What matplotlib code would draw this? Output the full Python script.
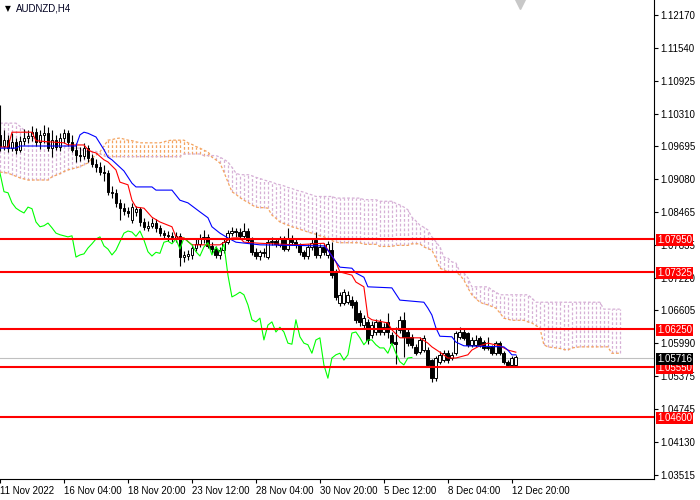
import numpy as np
import matplotlib
matplotlib.use("Agg")
import matplotlib.pyplot as plt
from matplotlib.transforms import blended_transform_factory

# H4 candles, one per bar (bar 0 = left edge of the chart)
opens = [
    1.0990, 1.0970, 1.0981, 1.0966, 1.0978, 1.0963, 1.0979, 1.0985, 1.0989, 1.0996,
    1.0978, 1.0991, 1.0994, 1.0966, 1.0981, 1.0968, 1.0985, 1.0994, 1.0978, 1.0963,
    1.0953, 1.0951, 1.0966, 1.0947, 1.0936, 1.0931, 1.0921, 1.0919, 1.0884, 1.0882,
    1.0863, 1.0853, 1.0848, 1.0830, 1.0846, 1.0852, 1.0827, 1.0816, 1.0820, 1.0825,
    1.0816, 1.0806, 1.0803, 1.0801, 1.0797, 1.0801, 1.0761, 1.0763, 1.0765, 1.0778,
    1.0786, 1.0795, 1.0799, 1.0782, 1.0776, 1.0765, 1.0774, 1.0790, 1.0806, 1.0810,
    1.0808, 1.0800, 1.0810, 1.0793, 1.0771, 1.0763, 1.0770, 1.0762, 1.0789, 1.0791,
    1.0784, 1.0795, 1.0776, 1.0797, 1.0790, 1.0784, 1.0771, 1.0763, 1.0780, 1.0793,
    1.0765, 1.0780, 1.0765, 1.0774, 1.0733, 1.0675, 1.0675, 1.0677, 1.0680, 1.0676,
    1.0656, 1.0633, 1.0639, 1.0614, 1.0620, 1.0639, 1.0620, 1.0639, 1.0614, 1.0601,
    1.0624, 1.0643, 1.0620, 1.0611, 1.0592, 1.0582, 1.0586, 1.0586, 1.0567, 1.0533,
    1.0564, 1.0567, 1.0580, 1.0571, 1.0580, 1.0611, 1.0620, 1.0618, 1.0596, 1.0596,
    1.0609, 1.0601, 1.0592, 1.0592, 1.0580, 1.0599, 1.0580, 1.0564, 1.0558, 1.0558,
]
highs = [
    1.1047, 1.1000, 1.0990, 1.0995, 1.0985, 1.0988, 1.1002, 1.1000, 1.1008, 1.1003,
    1.1000, 1.1010, 1.1005, 1.1000, 1.0990, 1.0995, 1.1002, 1.1000, 1.0990, 1.0975,
    1.0968, 1.0975, 1.0972, 1.0955, 1.0945, 1.0940, 1.0935, 1.0925, 1.0895, 1.0890,
    1.0870, 1.0862, 1.0855, 1.0862, 1.0858, 1.0856, 1.0835, 1.0828, 1.0835, 1.0832,
    1.0822, 1.0812, 1.0810, 1.0808, 1.0808, 1.0806, 1.0772, 1.0775, 1.0785, 1.0795,
    1.0805, 1.0812, 1.0805, 1.0790, 1.0782, 1.0780, 1.0795, 1.0812, 1.0818, 1.0816,
    1.0815, 1.0825, 1.0816, 1.0798, 1.0778, 1.0775, 1.0778, 1.0795, 1.0798, 1.0796,
    1.0800, 1.0800, 1.0815, 1.0802, 1.0795, 1.0788, 1.0775, 1.0786, 1.0795, 1.0808,
    1.0786, 1.0788, 1.0791, 1.0790, 1.0738, 1.0695, 1.0700, 1.0698, 1.0688, 1.0680,
    1.0662, 1.0652, 1.0645, 1.0640, 1.0645, 1.0645, 1.0636, 1.0656, 1.0620, 1.0629,
    1.0650, 1.0658, 1.0625, 1.0616, 1.0597, 1.0610, 1.0614, 1.0592, 1.0570, 1.0575,
    1.0584, 1.0586, 1.0586, 1.0582, 1.0622, 1.0629, 1.0625, 1.0620, 1.0610, 1.0614,
    1.0613, 1.0605, 1.0611, 1.0596, 1.0603, 1.0603, 1.0584, 1.0567, 1.0575, 1.0577,
]
lows = [
    1.0960, 1.0962, 1.0958, 1.0960, 1.0955, 1.0958, 1.0972, 1.0975, 1.0980, 1.0970,
    1.0965, 1.0975, 1.0960, 1.0950, 1.0962, 1.0960, 1.0975, 1.0970, 1.0958, 1.0940,
    1.0942, 1.0945, 1.0940, 1.0930, 1.0922, 1.0915, 1.0905, 1.0878, 1.0872, 1.0855,
    1.0830, 1.0840, 1.0836, 1.0826, 1.0838, 1.0820, 1.0812, 1.0810, 1.0815, 1.0808,
    1.0800, 1.0795, 1.0792, 1.0790, 1.0790, 1.0745, 1.0752, 1.0755, 1.0758, 1.0772,
    1.0780, 1.0788, 1.0778, 1.0768, 1.0760, 1.0758, 1.0768, 1.0785, 1.0800, 1.0798,
    1.0795, 1.0795, 1.0788, 1.0765, 1.0758, 1.0755, 1.0762, 1.0758, 1.0784, 1.0780,
    1.0780, 1.0772, 1.0772, 1.0784, 1.0778, 1.0765, 1.0758, 1.0758, 1.0775, 1.0760,
    1.0760, 1.0765, 1.0760, 1.0722, 1.0680, 1.0668, 1.0670, 1.0672, 1.0666, 1.0636,
    1.0632, 1.0628, 1.0598, 1.0608, 1.0615, 1.0614, 1.0615, 1.0609, 1.0595, 1.0560,
    1.0618, 1.0573, 1.0594, 1.0590, 1.0577, 1.0578, 1.0582, 1.0554, 1.0526, 1.0528,
    1.0560, 1.0564, 1.0562, 1.0567, 1.0576, 1.0607, 1.0605, 1.0592, 1.0592, 1.0592,
    1.0592, 1.0586, 1.0586, 1.0576, 1.0576, 1.0576, 1.0560, 1.0555, 1.0554, 1.0555,
]
closes = [
    1.0970, 1.0981, 1.0966, 1.0978, 1.0963, 1.0979, 1.0985, 1.0989, 1.0996, 1.0978,
    1.0991, 1.0994, 1.0966, 1.0981, 1.0968, 1.0985, 1.0994, 1.0978, 1.0963, 1.0953,
    1.0951, 1.0966, 1.0947, 1.0936, 1.0931, 1.0921, 1.0919, 1.0884, 1.0882, 1.0863,
    1.0853, 1.0848, 1.0844, 1.0855, 1.0852, 1.0827, 1.0818, 1.0820, 1.0825, 1.0816,
    1.0806, 1.0803, 1.0801, 1.0799, 1.0801, 1.0761, 1.0765, 1.0767, 1.0778, 1.0786,
    1.0795, 1.0799, 1.0782, 1.0776, 1.0765, 1.0774, 1.0790, 1.0806, 1.0810, 1.0808,
    1.0800, 1.0810, 1.0793, 1.0771, 1.0763, 1.0770, 1.0768, 1.0789, 1.0791, 1.0786,
    1.0795, 1.0776, 1.0797, 1.0790, 1.0784, 1.0771, 1.0763, 1.0780, 1.0788, 1.0765,
    1.0780, 1.0770, 1.0785, 1.0727, 1.0686, 1.0690, 1.0695, 1.0690, 1.0671, 1.0643,
    1.0639, 1.0646, 1.0605, 1.0633, 1.0639, 1.0620, 1.0629, 1.0620, 1.0599, 1.0597,
    1.0643, 1.0611, 1.0599, 1.0596, 1.0580, 1.0605, 1.0609, 1.0558, 1.0533, 1.0571,
    1.0577, 1.0580, 1.0567, 1.0577, 1.0618, 1.0620, 1.0609, 1.0596, 1.0605, 1.0605,
    1.0596, 1.0590, 1.0590, 1.0580, 1.0599, 1.0580, 1.0564, 1.0558, 1.0571, 1.0572,
]

# Tenkan-sen (red) and Kijun-sen (blue), vertices as (bar, price)
tenkan_bar = [0, 2, 3, 8, 9, 12, 16, 17, 21, 22, 23, 24, 26, 27, 29, 30, 32, 33, 34, 36,
              38, 40, 42, 43, 44, 46, 48, 55, 57, 58, 60, 61, 65, 74, 81, 82, 84, 85, 88, 89,
              91, 92, 93, 97, 98, 100, 105, 107, 108, 110, 112, 114, 117, 118, 120, 122, 125,
              127, 129]
tenkan_val = [1.0968, 1.0968, 1.0996, 1.0996, 1.0980, 1.0978, 1.0976, 1.0972, 1.0972, 1.0963,
              1.0959, 1.0957, 1.0944, 1.0940, 1.0925, 1.0902, 1.0897, 1.0868, 1.0855, 1.0853,
              1.0836, 1.0827, 1.0821, 1.0818, 1.0799, 1.0797, 1.0784, 1.0784, 1.0793, 1.0797,
              1.0797, 1.0789, 1.0787, 1.0784, 1.0787, 1.0774, 1.0752, 1.0733, 1.0727, 1.0714,
              1.0705, 1.0648, 1.0643, 1.0637, 1.0624, 1.0609, 1.0609, 1.0599, 1.0592, 1.0582,
              1.0571, 1.0571, 1.0577, 1.0586, 1.0594, 1.0599, 1.0594, 1.0586, 1.0582]
kijun_bar = [0, 4, 5, 19, 20, 21, 22, 24, 26, 27, 28, 31, 33, 34, 38, 39, 43, 45, 47, 50,
             52, 53, 55, 57, 59, 65, 81, 82, 84, 85, 88, 89, 91, 92, 98, 100, 106, 107, 108,
             109, 110, 113, 114, 116, 126, 127, 128, 129]
kijun_val = [1.0966, 1.0966, 1.0970, 1.0970, 1.0991, 1.0996, 1.0994, 1.0987, 1.0963, 1.0949,
             1.0944, 1.0923, 1.0900, 1.0893, 1.0893, 1.0887, 1.0887, 1.0868, 1.0863, 1.0846,
             1.0835, 1.0818, 1.0806, 1.0797, 1.0789, 1.0784, 1.0782, 1.0774, 1.0752, 1.0742,
             1.0740, 1.0731, 1.0723, 1.0705, 1.0703, 1.0680, 1.0676, 1.0665, 1.0652, 1.0628,
             1.0612, 1.0611, 1.0601, 1.0594, 1.0592, 1.0586, 1.0577, 1.0577]

# Senkou span A / B, one value per bar (runs 26 bars past the last candle)
span_a = [
    1.0921, 1.0920, 1.0919, 1.0916, 1.0913, 1.0910, 1.0908, 1.0906, 1.0906, 1.0906,
    1.0906, 1.0906, 1.0906, 1.0912, 1.0915, 1.0918, 1.0922, 1.0925, 1.0927, 1.0929,
    1.0931, 1.0935, 1.0938, 1.0947, 1.0953, 1.0959, 1.0970, 1.0981, 1.0982, 1.0984,
    1.0985, 1.0983, 1.0981, 1.0980, 1.0978, 1.0976, 1.0976, 1.0976, 1.0976, 1.0976,
    1.0976, 1.0978, 1.0980, 1.0981, 1.0981, 1.0981, 1.0981, 1.0976, 1.0973, 1.0969,
    1.0966, 1.0962, 1.0959, 1.0949, 1.0944, 1.0938, 1.0921, 1.0902, 1.0884, 1.0879,
    1.0873, 1.0868, 1.0864, 1.0859, 1.0855, 1.0854, 1.0854, 1.0853, 1.0840, 1.0834,
    1.0827, 1.0824, 1.0821, 1.0818, 1.0816, 1.0813, 1.0811, 1.0808, 1.0806, 1.0804,
    1.0801, 1.0799, 1.0796, 1.0792, 1.0789, 1.0788, 1.0788, 1.0788, 1.0788, 1.0788,
    1.0788, 1.0785, 1.0785, 1.0785, 1.0785, 1.0781, 1.0781, 1.0781, 1.0781, 1.0783,
    1.0783, 1.0783, 1.0783, 1.0786, 1.0786, 1.0786, 1.0780, 1.0777, 1.0774, 1.0759,
    1.0740, 1.0737, 1.0733, 1.0733, 1.0733, 1.0727, 1.0718, 1.0703, 1.0690, 1.0683,
    1.0676, 1.0673, 1.0671, 1.0668, 1.0665, 1.0656, 1.0646, 1.0644, 1.0642, 1.0642,
    1.0642, 1.0642, 1.0639, 1.0637, 1.0632, 1.0628, 1.0596, 1.0592, 1.0591, 1.0590,
    1.0589, 1.0587, 1.0586, 1.0590, 1.0591, 1.0592, 1.0592, 1.0592, 1.0592, 1.0592,
    1.0592, 1.0592, 1.0592, 1.0580, 1.0580, 1.0580,
]
span_b = [
    1.1013, 1.1013, 1.1013, 1.1013, 1.1013, 1.1007, 1.1000, 1.0992, 1.0985, 1.0983,
    1.0980, 1.0978, 1.0975, 1.0972, 1.0972, 1.0972, 1.0972, 1.0966, 1.0966, 1.0966,
    1.0966, 1.0960, 1.0960, 1.0960, 1.0960, 1.0955, 1.0952, 1.0949, 1.0950, 1.0950,
    1.0950, 1.0950, 1.0950, 1.0950, 1.0950, 1.0950, 1.0950, 1.0950, 1.0950, 1.0950,
    1.0950, 1.0950, 1.0950, 1.0950, 1.0950, 1.0950, 1.0955, 1.0955, 1.0955, 1.0955,
    1.0955, 1.0952, 1.0952, 1.0952, 1.0952, 1.0949, 1.0945, 1.0940, 1.0930, 1.0919,
    1.0916, 1.0916, 1.0916, 1.0914, 1.0911, 1.0909, 1.0906, 1.0904, 1.0902, 1.0899,
    1.0897, 1.0895, 1.0892, 1.0890, 1.0887, 1.0885, 1.0883, 1.0880, 1.0878, 1.0875,
    1.0875, 1.0875, 1.0875, 1.0875, 1.0872, 1.0872, 1.0872, 1.0872, 1.0872, 1.0872,
    1.0872, 1.0869, 1.0869, 1.0869, 1.0869, 1.0866, 1.0866, 1.0866, 1.0866, 1.0862,
    1.0859, 1.0855, 1.0850, 1.0836, 1.0829, 1.0821, 1.0817, 1.0812, 1.0799, 1.0790,
    1.0780, 1.0761, 1.0759, 1.0752, 1.0750, 1.0733, 1.0731, 1.0722, 1.0705, 1.0705,
    1.0705, 1.0705, 1.0705, 1.0699, 1.0695, 1.0690, 1.0690, 1.0690, 1.0690, 1.0690,
    1.0690, 1.0690, 1.0690, 1.0684, 1.0676, 1.0676, 1.0676, 1.0676, 1.0676, 1.0676,
    1.0676, 1.0676, 1.0676, 1.0676, 1.0676, 1.0676, 1.0676, 1.0676, 1.0676, 1.0676,
    1.0676, 1.0663, 1.0663, 1.0663, 1.0663, 1.0663,
]

levels = [1.07950, 1.07325, 1.06250, 1.05550, 1.04600]
level_labels = ["1.07950", "1.07325", "1.06250", "1.05550", "1.04600"]
last_price = 1.05716

price_ticks = [1.12170, 1.11540, 1.10925, 1.10310, 1.09695, 1.09080, 1.08465, 1.07835,
               1.07220, 1.06605, 1.05990, 1.05375, 1.04745, 1.04130, 1.03515]
time_ticks = [0, 16, 32, 48, 64, 80, 96, 112, 128]
time_labels = ["11 Nov 2022", "16 Nov 04:00", "18 Nov 20:00", "23 Nov 12:00", "28 Nov 04:00",
               "30 Nov 20:00", "5 Dec 12:00", "8 Dec 04:00", "12 Dec 20:00"]

plt.rcParams["font.family"] = ["Liberation Sans", "DejaVu Sans"]
plt.rcParams["font.size"] = 7

fig = plt.figure(figsize=(7, 5), dpi=100)
ax = fig.add_axes([0.0, 0.042, 0.934, 0.958])
ax.set_xlim(0, 163.5)
ax.set_ylim(1.03433, 1.12448)

PINK = "#D6B0D6"
SAND = "#F4A460"
DASH = (0, (2.2, 1.6))

# cloud: dashed vertical hatch per bar, coloured by which span is on top
a = np.array(span_a)
b = np.array(span_b)
cx = np.arange(len(a))
up = a >= b
ax.vlines(cx[~up], a[~up], b[~up], colors=PINK, linestyles=DASH, lw=0.9, zorder=1)
ax.vlines(cx[up], b[up], a[up], colors=SAND, linestyles=DASH, lw=0.9, zorder=1)
ax.plot(cx, a, color=SAND, ls=DASH, lw=0.9, zorder=1)
ax.plot(cx, b, color=PINK, ls=DASH, lw=0.9, zorder=1)

ax.axhline(last_price, color="#C0C0C0", lw=0.8, zorder=2)

# candles
o = np.array(opens)
h = np.array(highs)
l = np.array(lows)
c = np.array(closes)
bx = np.arange(len(c))
ax.vlines(bx, l, h, colors="black", lw=0.8, zorder=3)
body_lo = np.minimum(o, c)
body_h = np.maximum(np.abs(c - o), 0.00004)
face = np.where(c >= o, "white", "black")
ax.bar(bx, body_h, bottom=body_lo, width=0.72, color=face, edgecolor="black",
       linewidth=0.7, zorder=3)

# ichimoku lines
ax.plot(tenkan_bar, tenkan_val, color="#FF0000", lw=0.8, zorder=4)
ax.plot(kijun_bar, kijun_val, color="#0000FF", lw=0.8, zorder=4)
ax.plot(bx[:len(c) - 26], c[26:], color="#00FF00", lw=0.8, zorder=4)

for lv in levels:
    ax.axhline(lv, color="#FF0000", lw=1.5, zorder=5)

# axes styling
for side in ("left", "top"):
    ax.spines[side].set_visible(False)
for side in ("right", "bottom"):
    ax.spines[side].set_linewidth(0.8)
ax.yaxis.tick_right()
ax.set_yticks(price_ticks)
ax.set_yticklabels([f"{v:.5f}" for v in price_ticks])
ax.tick_params(axis="y", length=3, width=0.8, pad=2, labelsize=7)
ax.set_xticks(time_ticks)
ax.set_xticklabels(time_labels)
ax.tick_params(axis="x", length=3, width=0.8, pad=2, labelsize=7)
for lbl in ax.get_xticklabels():
    lbl.set_horizontalalignment("left")

trans = blended_transform_factory(ax.transAxes, ax.transData)
for lv, txt in zip(levels, level_labels):
    ax.text(1.005, lv, txt, transform=trans, color="white", ha="left", va="center_baseline",
            fontsize=7, clip_on=False, zorder=6,
            bbox=dict(boxstyle="square,pad=0.12", fc="#FF0000", ec="#FF0000", lw=0))
ax.text(1.005, last_price, f"{last_price:.5f}", transform=trans, color="white",
        ha="left", va="center_baseline", fontsize=7, clip_on=False, zorder=6,
        bbox=dict(boxstyle="square,pad=0.12", fc="black", ec="black", lw=0))

ax.text(0.007, 0.983, "\u25bc", transform=ax.transAxes, fontsize=5.5, va="center",
        ha="left", family=["DejaVu Sans"])
ax.text(0.024, 0.983, "AUDNZD,H4", transform=ax.transAxes, fontsize=7, va="center",
        ha="left", color="#000020")
tri = blended_transform_factory(ax.transData, ax.transAxes)
ax.plot([130], [0.992], marker="v", markersize=7, color="#C8C8C8", transform=tri,
        clip_on=False, zorder=6)

fig.savefig("out.png", dpi=100)
